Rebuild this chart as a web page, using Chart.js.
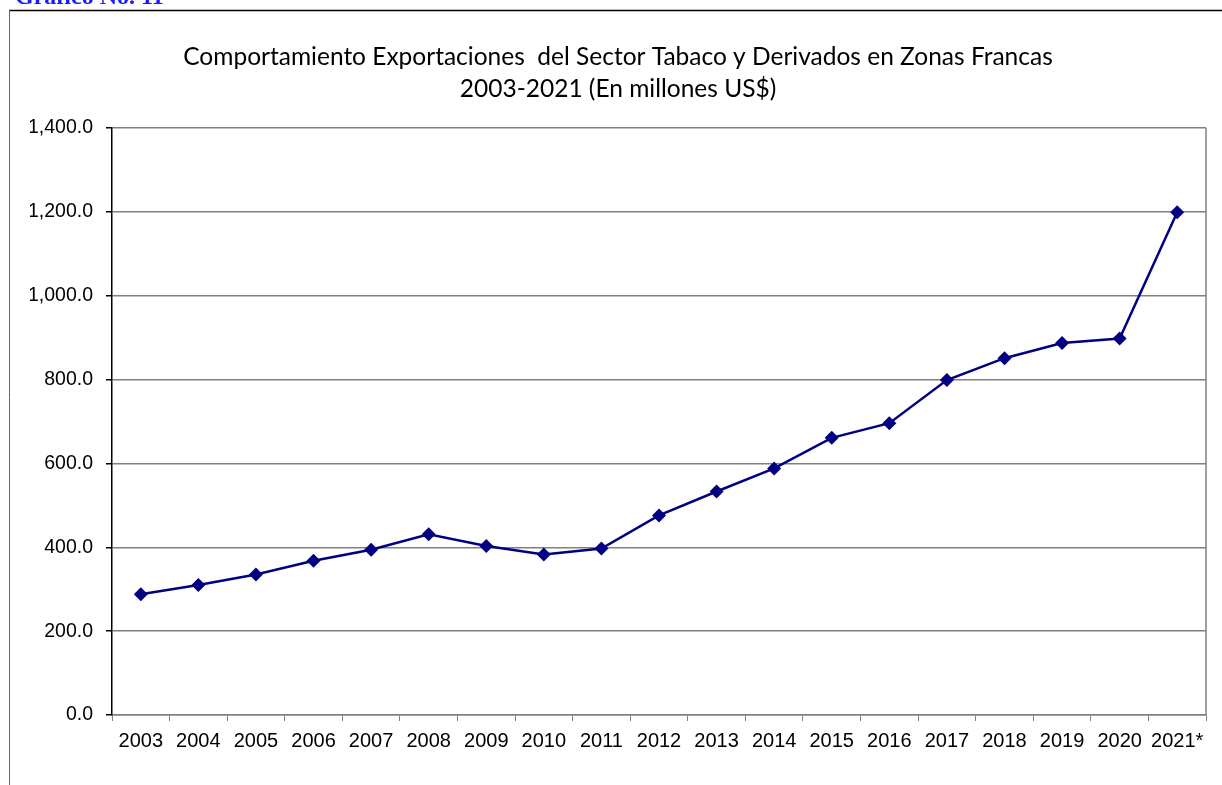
<!DOCTYPE html>
<html>
<head>
<meta charset="utf-8">
<script src="https://cdn.jsdelivr.net/npm/chart.js@4/dist/chart.umd.min.js"></script>
<style>
  html, body { margin: 0; padding: 0; background: #fff; overflow: hidden; }
  #wrap { position: relative; width: 1222px; height: 785px; }
  #heading {
    position: absolute; left: 15px; top: -16px;
    font: bold 24px "Liberation Serif", "Times New Roman", serif;
    line-height: 24px; color: #1a1aff; white-space: nowrap;
  }
  canvas { position: absolute; left: 0; top: 0; }
</style>
</head>
<body>
<div id="wrap">
  <canvas id="exportChart" width="1222" height="785"></canvas>
  <div id="heading">Gráfico No. 11</div>
</div>
<script>
// datos
const years = ['2003', '2004', '2005', '2006', '2007', '2008', '2009', '2010', '2011', '2012',
               '2013', '2014', '2015', '2016', '2017', '2018', '2019', '2020', '2021*'];
const exportValues = [288, 310, 335, 368, 394, 431, 403, 383, 397, 476,
                      533, 588, 661, 696, 799, 851, 887, 898, 1199];
const yMin = 0;
const yMax = 1400;
const yStep = 200;
const titleLines = [
    'Comportamiento Exportaciones  del Sector Tabaco y Derivados en Zonas Francas',
    '2003-2021 (En millones US$)'
];

document.addEventListener('DOMContentLoaded', function () {
    // marco exterior y borde derecho del área de trazado
    const framePlugin = {
        id: 'frame',
        beforeDraw(chart) {
            const ctx = chart.ctx;
            ctx.save();
            ctx.strokeStyle = '#000';
            ctx.lineWidth = 1.5;
            ctx.beginPath();
            ctx.moveTo(9, 10.5);
            ctx.lineTo(1222, 10.5);
            ctx.stroke();
            ctx.strokeStyle = '#666';
            ctx.lineWidth = 1;
            ctx.beginPath();
            ctx.moveTo(9.5, 10);
            ctx.lineTo(9.5, 785);
            ctx.stroke();
            ctx.restore();
        },
        afterDatasetsDraw(chart) {
            const a = chart.chartArea;
            const ctx = chart.ctx;
            ctx.save();
            ctx.strokeStyle = '#808080';
            ctx.lineWidth = 1.5;
            ctx.beginPath();
            ctx.moveTo(a.right, a.top);
            ctx.lineTo(a.right, a.bottom);
            ctx.stroke();
            ctx.restore();
        }
    };

    new Chart(document.getElementById('exportChart').getContext('2d'), {
        type: 'line',
        data: {
            labels: years,
            datasets: [{
                label: 'Exportaciones',
                data: exportValues,
                borderColor: '#000080',
                backgroundColor: '#000080',
                borderWidth: 2.5,
                tension: 0,
                pointStyle: 'rectRot',
                pointRadius: 7,
                pointBorderWidth: 0,
                pointBackgroundColor: '#000080'
            }]
        },
        options: {
            responsive: false,
            animation: false,
            layout: { padding: { left: 30, right: 16, top: 0, bottom: 0 } },
            plugins: {
                legend: { display: false },
                tooltip: { enabled: false },
                title: {
                    display: true,
                    text: titleLines,
                    color: '#000',
                    font: { family: 'Lato, "Open Sans", sans-serif', size: 24.5, weight: 'normal', lineHeight: 1.306 },
                    padding: { top: 41, bottom: 23 }
                }
            },
            scales: {
                x: {
                    offset: true,
                    grid: {
                        offset: true,
                        drawOnChartArea: false,
                        color: '#808080',
                        tickLength: 6
                    },
                    border: { color: '#808080', width: 1.5 },
                    ticks: {
                        color: '#000',
                        padding: 8,
                        maxRotation: 0,
                        autoSkip: false,
                        font: { family: '"Liberation Sans", Arial, sans-serif', size: 20 }
                    },
                    afterFit(scale) { scale.height = 70; }
                },
                y: {
                    min: yMin,
                    max: yMax,
                    grid: {
                        color: '#808080',
                        lineWidth: 1.5,
                        tickColor: '#000',
                        tickLength: 6
                    },
                    border: { color: '#000', width: 1.5 },
                    ticks: {
                        stepSize: yStep,
                        color: '#000',
                        padding: 13,
                        font: { family: '"Liberation Sans", Arial, sans-serif', size: 19.5 },
                        callback: v => v.toLocaleString('en-US', { minimumFractionDigits: 1, maximumFractionDigits: 1 })
                    },
                    afterFit(scale) { scale.width = 82; }
                }
            }
        },
        plugins: [framePlugin]
    });
});
</script>
</body>
</html>
